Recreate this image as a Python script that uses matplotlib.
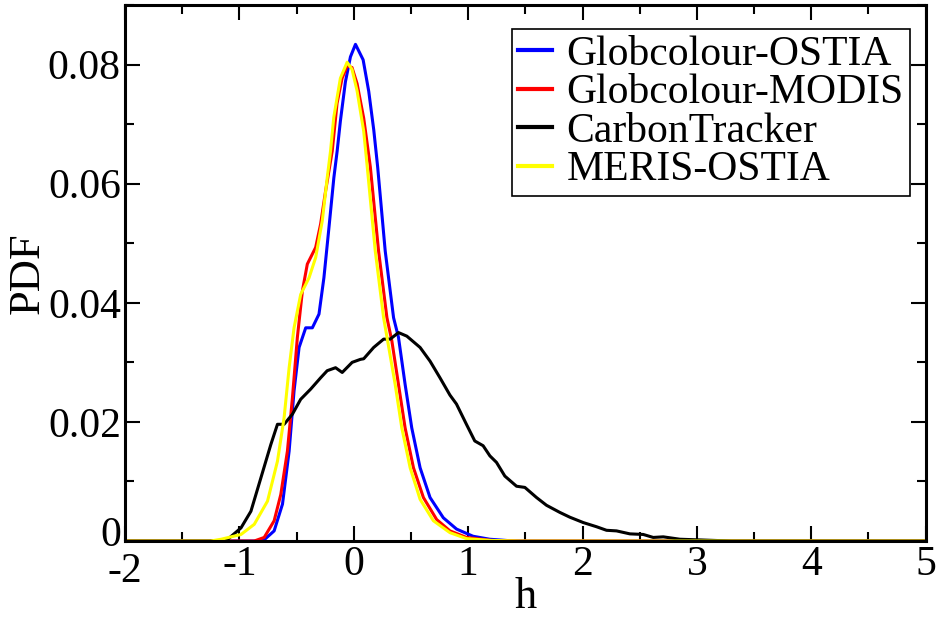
import matplotlib
matplotlib.use("Agg")
import matplotlib.pyplot as plt
import matplotlib.transforms as mtransforms
from matplotlib.ticker import MultipleLocator

plt.rcParams['font.family'] = ['Liberation Serif', 'DejaVu Serif']

# Globcolour-OSTIA
h_blue = [-2.0, -0.85, -0.783, -0.696, -0.623, -0.565, -0.522, -0.478, -0.42, -0.362, -0.304,
          -0.261, -0.217, -0.174, -0.145, -0.117, -0.073, -0.029, 0.015, 0.082, 0.131, 0.175,
          0.209, 0.275, 0.348, 0.391, 0.449, 0.507, 0.58, 0.667, 0.783, 0.899, 1.043, 1.188,
          1.4, 5.0]
pdf_blue = [0.0, 0.0, 0.0002, 0.0017, 0.0062, 0.0151, 0.0252, 0.0325, 0.0358, 0.0358, 0.0381,
            0.0442, 0.0526, 0.061, 0.0655, 0.0705, 0.0771, 0.0813, 0.0834, 0.0808, 0.0755, 0.069,
            0.0628, 0.0487, 0.0375, 0.0342, 0.0263, 0.019, 0.0123, 0.0073, 0.0039, 0.002, 0.0008, 0.0003,
            0.0, 0.0]

# Globcolour-MODIS
h_red = [-2.0, -0.87, -0.783, -0.696, -0.638, -0.58, -0.536, -0.493, -0.449, -0.406, -0.333,
         -0.29, -0.246, -0.188, -0.146, -0.102, -0.058, -0.015, 0.029, 0.087, 0.145, 0.217,
         0.29, 0.333, 0.391, 0.449, 0.522, 0.609, 0.725, 0.841, 0.986, 1.2, 1.45, 5.0]
pdf_red = [0.0, 0.0, 0.0006, 0.0034, 0.0078, 0.0151, 0.0241, 0.0342, 0.042, 0.0465, 0.0493,
           0.0532, 0.0588, 0.0655, 0.0735, 0.0777, 0.0798, 0.0795, 0.0768, 0.071, 0.0628, 0.0487,
           0.0375, 0.0336, 0.0263, 0.019, 0.0123, 0.0073, 0.0036, 0.0017, 0.0006, 0.0001, 0.0, 0.0]

# CarbonTracker
h_black = [-2.0, -1.2, -1.101, -0.986, -0.899, -0.812, -0.725, -0.667, -0.609, -0.536, -0.464,
           -0.377, -0.29, -0.232, -0.159, -0.101, -0.014, 0.058, 0.087, 0.174, 0.261, 0.319,
           0.391, 0.464, 0.58, 0.667, 0.754, 0.841, 0.898, 0.985, 1.058, 1.131, 1.19, 1.248,
           1.321, 1.423, 1.496, 1.598, 1.685, 1.802, 1.889, 2.006, 2.122, 2.21, 2.297, 2.414,
           2.531, 2.618, 2.706, 2.851, 3.0, 3.3, 5.0]
pdf_black = [0.0, 0.0, 0.0003, 0.0022, 0.005, 0.0106, 0.0162, 0.0196, 0.0196, 0.0213, 0.0238,
             0.0255, 0.0274, 0.0286, 0.0291, 0.0283, 0.03, 0.0305, 0.0306, 0.0325, 0.0339, 0.0339,
             0.035, 0.0344, 0.0325, 0.0302, 0.0274, 0.0245, 0.023, 0.0196, 0.0168, 0.016, 0.0143, 0.0132,
             0.0109, 0.0092, 0.009, 0.0073, 0.006, 0.0048, 0.004, 0.0031, 0.0024, 0.0018, 0.0017, 0.0012,
             0.0011, 0.0006, 0.0007, 0.0003, 0.0002, 0.0, 0.0]

# MERIS-OSTIA
h_yellow = [-2.0, -1.25, -1.159, -0.986, -0.87, -0.754, -0.667, -0.609, -0.565, -0.522, -0.464,
            -0.391, -0.333, -0.275, -0.232, -0.203, -0.175, -0.117, -0.058, -0.015, 0.029, 0.087,
            0.116, 0.188, 0.261, 0.362, 0.42, 0.493, 0.58, 0.696, 0.841, 0.986, 1.2, 1.45, 5.0]
pdf_yellow = [0.0, 0.0, 0.0003, 0.0011, 0.0028, 0.0067, 0.0134, 0.0207, 0.0291, 0.0358, 0.0414,
              0.0442, 0.0476, 0.0538, 0.061, 0.0655, 0.0711, 0.0777, 0.0804, 0.0792, 0.0756, 0.0688,
              0.0632, 0.0487, 0.0375, 0.0263, 0.019, 0.0123, 0.007, 0.0034, 0.0014, 0.0004, 0.0001, 0.0, 0.0]

fig = plt.figure(figsize=(9.37, 6.2), dpi=100)
ax = fig.add_axes([0.1334, 0.1274, 0.8545, 0.8645])

lw = 2.2
ax.plot(h_blue, pdf_blue, color='#0000ff', lw=lw, label='Globcolour-OSTIA')
ax.plot(h_red, pdf_red, color='#ff0000', lw=lw, label='Globcolour-MODIS')
ax.plot(h_black, pdf_black, color='black', lw=lw, label='CarbonTracker')
ax.plot(h_yellow, pdf_yellow, color='#ffff00', lw=lw, label='MERIS-OSTIA')

ax.set_xlim(-2, 5)
ax.set_ylim(0, 0.09)
ax.xaxis.set_minor_locator(MultipleLocator(0.5))
ax.yaxis.set_minor_locator(MultipleLocator(0.01))
ax.set_yticks([0, 0.02, 0.04, 0.06, 0.08])
ax.set_yticklabels(['0', '0.02', '0.04', '0.06', '0.08'])
ax.set_xticks([-2, -1, 0, 1, 2, 3, 4, 5])
ax.set_xticklabels(['-2', '-1', '0', '1', '2', '3', '4', '5'])

ax.tick_params(which='both', direction='in', top=True, right=True, labelsize=30, width=1.5)
ax.tick_params(which='major', length=11, pad=3)
ax.tick_params(which='minor', length=6.5)
for s in ax.spines.values():
    s.set_linewidth(2.2)

# the "0" of the y axis and the "-2" of the x axis share a corner; pull them apart
zero_lbl = ax.get_yticklabels()[0]
zero_lbl.set_transform(zero_lbl.get_transform() +
                       mtransforms.ScaledTranslation(0, 7 / 72, fig.dpi_scale_trans))
m2_lbl = ax.get_xticklabels()[0]
m2_lbl.set_transform(m2_lbl.get_transform() +
                     mtransforms.ScaledTranslation(0, -5 / 72, fig.dpi_scale_trans))

ax.set_xlabel('h', fontsize=32)
ax.xaxis.set_label_coords(0.5, -0.068)
ax.set_ylabel('PDF', fontsize=32, labelpad=0)

leg = ax.legend(loc='upper right', fontsize=30, handlelength=0.8, handletextpad=0.36,
                labelspacing=0.0, borderpad=0.15, borderaxespad=0, fancybox=False,
                framealpha=1, edgecolor='black', bbox_to_anchor=(0.9805, 0.955))
leg.get_frame().set_linewidth(1.2)
for line in leg.get_lines():
    line.set_linewidth(3)

fig.savefig('out.png', dpi=100)
